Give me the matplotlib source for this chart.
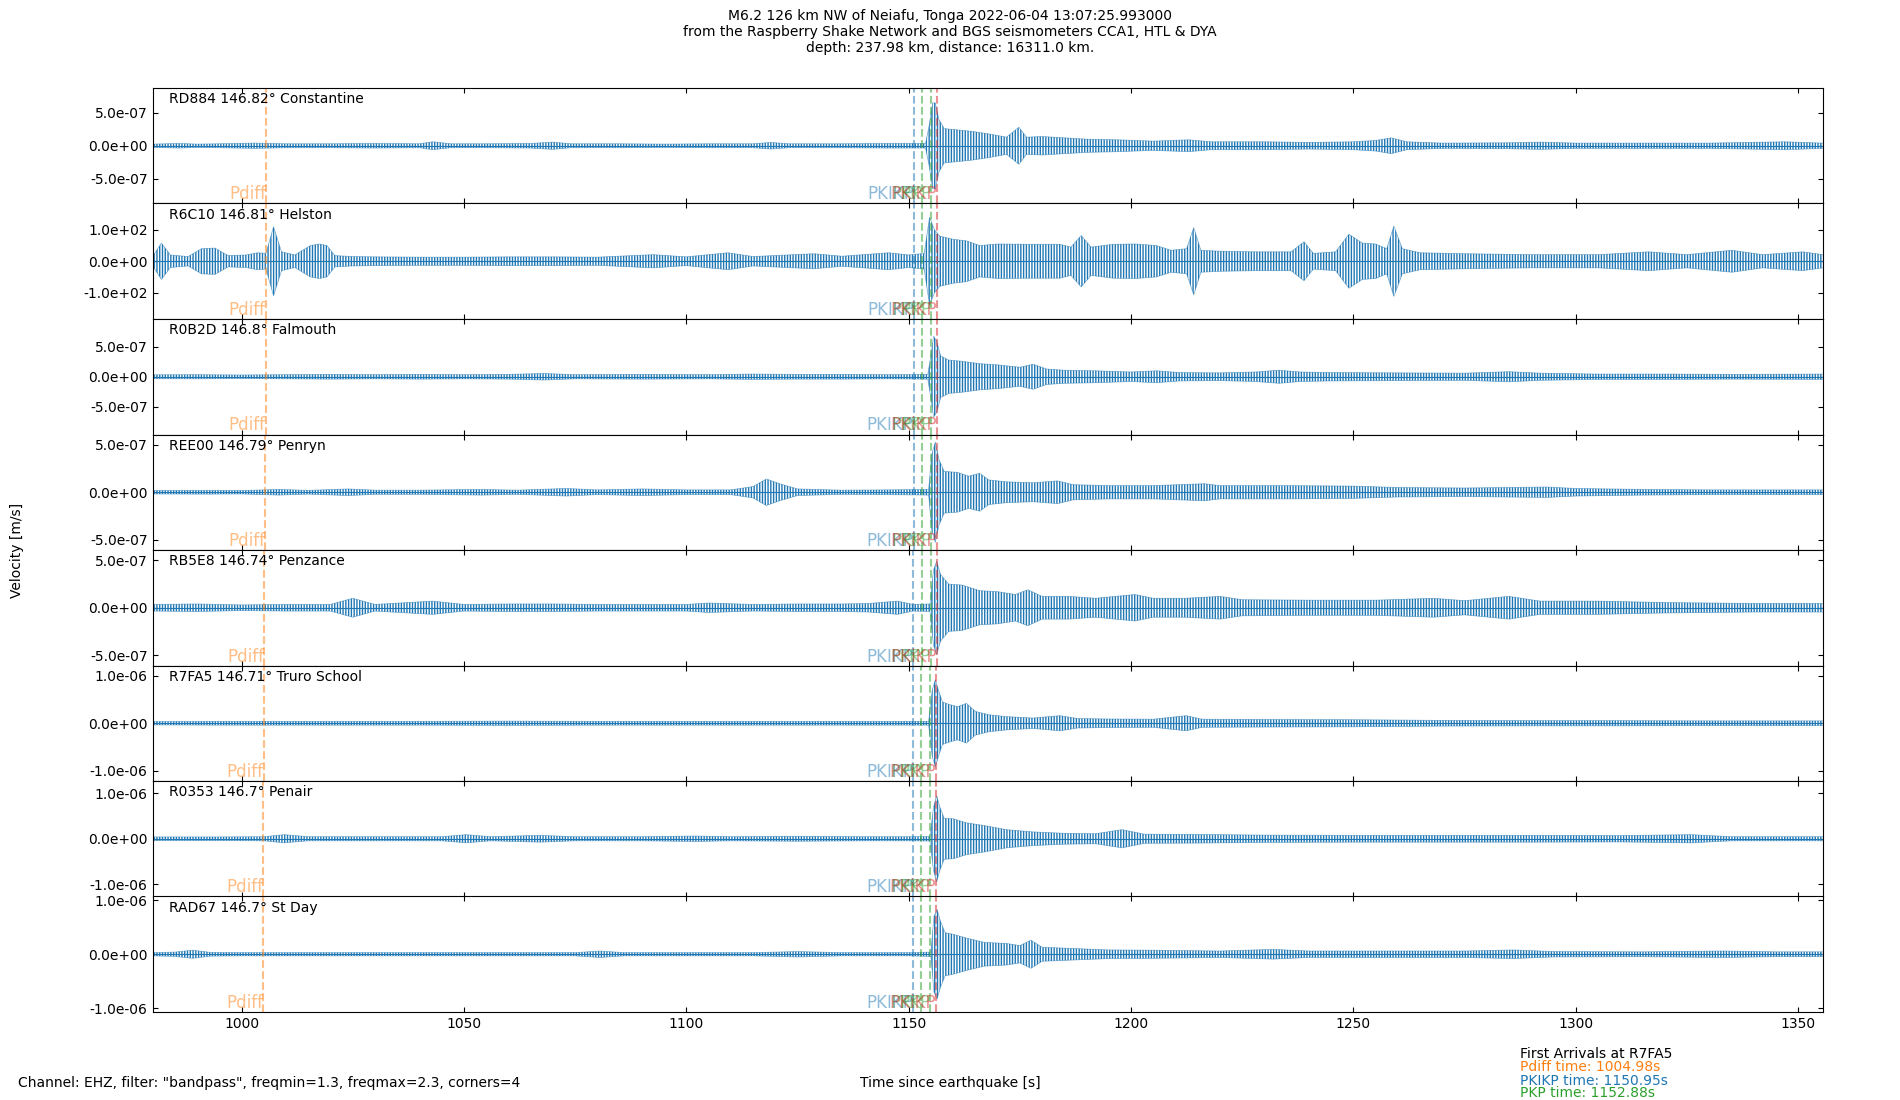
import matplotlib.pyplot as plt
from matplotlib.ticker import FormatStrFormatter

# stations (top to bottom)
stations = ["RD884", "R6C10", "R0B2D", "REE00", "RB5E8", "R7FA5", "R0353", "RAD67"]
distances = [146.82, 146.81, 146.8, 146.79, 146.74, 146.71, 146.7, 146.7]
places = ["Constantine", "Helston", "Falmouth", "Penryn", "Penzance", "Truro School", "Penair", "St Day"]

# y limits (+/-) and tick step per panel
ylims = [8.75e-7, 184, 9.7e-7, 6.1e-7, 6.1e-7, 1.22e-6, 1.27e-6, 1.07e-6]
ytick_steps = [5e-7, 100, 5e-7, 5e-7, 5e-7, 1e-6, 1e-6, 1e-6]
amp_units = [1e-7, 1, 1e-7, 1e-7, 1e-7, 1e-7, 1e-7, 1e-7]

# arrival times per station [s]
t_pdiff = [1005.49, 1005.45, 1005.40, 1005.35, 1005.12, 1004.98, 1004.93, 1004.93]
t_pkikp = [1151.18, 1151.16, 1151.14, 1151.12, 1151.03, 1150.95, 1150.93, 1150.93]
t_pkp1 = [1153.10, 1153.08, 1153.06, 1153.04, 1152.95, 1152.88, 1152.86, 1152.86]
t_pkp2 = [1155.10, 1155.08, 1155.06, 1155.04, 1154.95, 1154.88, 1154.86, 1154.86]
t_pkikp2 = [1156.45, 1156.43, 1156.41, 1156.39, 1156.30, 1156.23, 1156.21, 1156.21]

# peak envelope of each filtered trace (time [s], amplitude [amp_units])
env_t_rd884 = [980, 986, 990, 995, 1003, 1010, 1020, 1030, 1040, 1043, 1047, 1055, 1065, 1070, 1074,
               1085, 1095, 1105, 1115, 1119, 1123, 1135, 1145, 1153.8, 1154.6, 1155.4, 1156.0, 1156.8,
               1158, 1161, 1164, 1168, 1172, 1174.8, 1176.5, 1180, 1185, 1190, 1197, 1205, 1213, 1218,
               1230, 1240, 1250, 1255, 1258.5, 1262, 1270, 1285, 1292, 1300, 1315, 1330, 1347, 1355.6]
env_a_rd884 = [0.25, 0.35, 0.25, 0.3, 0.4, 0.3, 0.3, 0.35, 0.3, 0.6, 0.3, 0.3, 0.35, 0.55, 0.3,
               0.3, 0.25, 0.3, 0.3, 0.5, 0.3, 0.3, 0.35, 0.35, 3.0, 6.5, 6.5, 4.0,
               2.6, 2.4, 2.2, 1.8, 1.3, 2.8, 1.3, 1.4, 1.2, 1.0, 0.9, 0.7, 0.9, 0.6,
               0.6, 0.5, 0.6, 0.8, 1.2, 0.6, 0.4, 0.45, 0.55, 0.4, 0.4, 0.4, 0.6, 0.4]

env_t_r6c10 = [980, 982, 984, 988, 991, 994, 997, 1001, 1003.6, 1005.5, 1007.2, 1009, 1012, 1015.5,
               1017.5, 1019.2, 1021, 1025, 1030, 1040, 1050, 1060, 1070, 1080, 1092.6, 1100, 1109.4,
               1115, 1128.7, 1135, 1145.5, 1150, 1153.5, 1154.7, 1155.8, 1157, 1160, 1163, 1166, 1170,
               1177, 1184, 1186.5, 1188.8, 1191, 1196, 1201, 1205.7, 1209, 1212.5, 1214.1, 1215.7, 1220,
               1228, 1236, 1238.9, 1241, 1246, 1249, 1252, 1255, 1257.5, 1259.1, 1261, 1265, 1275, 1290,
               1305, 1316.4, 1325, 1335.1, 1342, 1351, 1355.6]
env_a_r6c10 = [15, 58, 20, 15, 40, 42, 18, 20, 27, 25, 110, 30, 20, 50,
               55, 50, 18, 15, 14, 13, 13, 14, 14, 13, 21, 14, 27,
               15, 24, 16, 27, 20, 25, 140, 100, 80, 70, 65, 50, 55,
               54, 54, 45, 82, 45, 54, 55, 50, 35, 40, 107, 35, 32,
               30, 30, 62, 25, 30, 86, 58, 55, 40, 112, 40, 27, 24, 21,
               21, 30, 21, 35, 21, 30, 21]

env_t_r0b2d = [980, 990, 1000, 1010, 1020, 1030, 1040, 1050, 1060, 1068, 1075, 1090, 1105, 1115, 1125,
               1135, 1145, 1154.3, 1155.0, 1155.6, 1156.3, 1157.2, 1159, 1162, 1166, 1170, 1175, 1178,
               1181, 1185, 1192, 1200, 1205.7, 1211, 1220, 1228, 1233.3, 1238, 1245, 1260, 1275, 1285,
               1292, 1305, 1320, 1335, 1355.6]
env_a_r0b2d = [0.33, 0.35, 0.3, 0.35, 0.4, 0.35, 0.4, 0.35, 0.4, 0.55, 0.35, 0.4, 0.35, 0.45, 0.4,
               0.4, 0.35, 0.4, 3.5, 6.8, 6.0, 3.5, 2.8, 2.6, 2.2, 2.0, 1.6, 2.1,
               1.3, 1.1, 1.0, 0.8, 1.0, 0.7, 0.65, 0.8, 1.1, 0.8, 0.7, 0.65, 0.6, 0.85,
               0.6, 0.45, 0.45, 0.4, 0.45]

env_t_ree00 = [980, 992, 1000, 1008.4, 1015, 1024, 1030, 1040, 1054, 1062, 1073, 1080, 1090, 1100, 1110,
               1115, 1118, 1121, 1125, 1135, 1145, 1154.5, 1155.2, 1156.0, 1156.8, 1158, 1161, 1163.5,
               1166, 1168, 1172, 1178, 1183.5, 1187, 1195, 1205, 1216.5, 1220, 1235, 1250, 1260, 1275,
               1293.5, 1300, 1315, 1330, 1355.6]
env_a_ree00 = [0.18, 0.2, 0.18, 0.3, 0.2, 0.35, 0.22, 0.22, 0.3, 0.22, 0.4, 0.25, 0.35, 0.25, 0.25,
               0.6, 1.4, 0.9, 0.35, 0.22, 0.25, 0.3, 4.0, 5.3, 3.5, 2.2, 2.1, 1.7,
               2.0, 1.3, 1.1, 1.0, 1.2, 0.8, 0.7, 0.7, 0.9, 0.7, 0.7, 0.65, 0.5, 0.45,
               0.55, 0.4, 0.3, 0.25, 0.25]

env_t_rb5e8 = [980, 990, 1000, 1010, 1020, 1025, 1030, 1043, 1050, 1060, 1070, 1080, 1090, 1100, 1105,
               1115, 1125, 1135, 1141, 1147.5, 1151, 1154.8, 1155.6, 1156.3, 1157.2, 1159, 1162, 1166,
               1170, 1174, 1176.8, 1180, 1186, 1192, 1200.9, 1205, 1212, 1220, 1225, 1240, 1255, 1268,
               1275, 1285, 1292, 1305, 1320, 1340, 1355.6]
env_a_rb5e8 = [0.35, 0.4, 0.3, 0.35, 0.35, 1.0, 0.35, 0.7, 0.35, 0.4, 0.4, 0.35, 0.35, 0.35, 0.5,
               0.35, 0.4, 0.4, 0.45, 0.7, 0.35, 0.4, 4.0, 4.9, 3.5, 2.5, 2.4, 1.8,
               1.7, 1.4, 1.9, 1.2, 1.2, 1.0, 1.4, 1.0, 1.0, 1.2, 0.85, 0.8, 0.8, 1.0,
               0.75, 1.2, 0.7, 0.7, 0.55, 0.45, 0.45]

env_t_r7fa5 = [980, 995, 1010, 1025, 1040, 1060, 1080, 1100, 1120, 1140, 1154.5, 1155.3, 1156.0, 1156.7,
               1157.6, 1159, 1161, 1163, 1165, 1168, 1172, 1178, 1184, 1188, 1195, 1205, 1212.4, 1216,
               1230, 1250, 1270, 1290, 1310, 1330, 1355.6]
env_a_r7fa5 = [0.35, 0.4, 0.4, 0.4, 0.4, 0.45, 0.4, 0.4, 0.4, 0.4, 0.4, 7.0, 9.2, 7.0,
               4.5, 4.0, 3.5, 4.2, 2.5, 1.8, 1.4, 1.1, 1.6, 1.0, 0.9, 0.85, 1.6, 0.85,
               0.8, 0.75, 0.6, 0.55, 0.55, 0.5, 0.5]

env_t_r0353 = [980, 995, 1005, 1009.6, 1015, 1030, 1045, 1050.5, 1056, 1067, 1075, 1090, 1102, 1110,
               1125, 1140, 1150, 1154.8, 1155.6, 1156.3, 1157.0, 1158, 1160, 1163, 1167, 1172, 1178,
               1185, 1192, 1198, 1203, 1215, 1230, 1250, 1270, 1290, 1310, 1326, 1335, 1355.6]
env_a_r0353 = [0.4, 0.4, 0.45, 0.9, 0.45, 0.45, 0.45, 0.9, 0.45, 0.75, 0.45, 0.45, 0.6, 0.45,
               0.55, 0.45, 0.45, 0.5, 7.0, 9.5, 7.0, 4.5, 4.4, 3.5, 2.9, 2.0, 1.5,
               1.2, 1.1, 2.0, 1.0, 0.95, 0.8, 0.75, 0.75, 0.75, 0.7, 0.9, 0.45, 0.45]

env_t_rad67 = [980, 985, 989, 993, 1000, 1015, 1030, 1045, 1060, 1075, 1080.6, 1086, 1100, 1115, 1125,
               1135, 1150, 1155.0, 1155.7, 1156.4, 1157.2, 1158.2, 1160, 1163, 1167, 1172, 1175, 1177.5,
               1180, 1186, 1195, 1205, 1220, 1232, 1240, 1260, 1275, 1286, 1295, 1315, 1333, 1345, 1355.6]
env_a_rad67 = [0.3, 0.4, 0.75, 0.35, 0.3, 0.3, 0.3, 0.3, 0.3, 0.3, 0.6, 0.3, 0.3, 0.3, 0.5,
               0.3, 0.3, 0.4, 7.0, 8.3, 6.0, 4.0, 3.7, 3.0, 2.2, 2.0, 1.6, 2.6,
               1.3, 1.1, 0.8, 0.75, 0.6, 0.9, 0.6, 0.6, 0.6, 0.8, 0.5, 0.45, 0.6, 0.45, 0.45]

env_times = [env_t_rd884, env_t_r6c10, env_t_r0b2d, env_t_ree00, env_t_rb5e8, env_t_r7fa5, env_t_r0353, env_t_rad67]
env_amps = [env_a_rd884, env_a_r6c10, env_a_r0b2d, env_a_ree00, env_a_rb5e8, env_a_r7fa5, env_a_r0353, env_a_rad67]

title = ("M6.2 126 km NW of Neiafu, Tonga 2022-06-04 13:07:25.993000\n"
         "from the Raspberry Shake Network and BGS seismometers CCA1, HTL & DYA\n"
         "depth: 237.98 km, distance: 16311.0 km.")

plt.rcParams['hatch.linewidth'] = 1.0

fig, axs = plt.subplots(len(stations), 1, sharex=True, figsize=(19, 11), dpi=100)
fig.subplots_adjust(left=0.0803, right=0.9595, top=0.92, bottom=0.08, hspace=0)

for i, ax in enumerate(axs):
    u = amp_units[i]
    t = env_times[i]
    a = [v * u for v in env_amps[i]]
    # dense wiggles drawn as vertical strokes inside the envelope
    ax.fill_between(t, [-v for v in a], a, facecolor='none', edgecolor='C0', hatch='||||||', lw=0)
    ax.plot(t, a, color='C0', lw=0.5, alpha=0.6)
    ax.plot(t, [-v for v in a], color='C0', lw=0.5, alpha=0.6)
    ax.axhline(0, color='C0', lw=0.8)

    phases = [("Pdiff", t_pdiff[i], 'C1'), ("PKIKP", t_pkikp[i], 'C0'),
              ("PKP", t_pkp1[i], 'C2'), ("PKP", t_pkp2[i], 'C2'),
              ("PKiKP", t_pkikp2[i], 'C3')]
    for name, tt, col in phases:
        ax.axvline(tt, color=col, ls='--', lw=1.5, alpha=0.5)
        ax.text(tt, 0.0, name, color=col, alpha=0.5, fontsize=12, ha='right', va='bottom',
                transform=ax.get_xaxis_transform())

    ax.text(0.01, 0.965, "{} {}° {}".format(stations[i], distances[i], places[i]),
            transform=ax.transAxes, fontsize=10, va='top', ha='left')

    lim = ylims[i]
    step = ytick_steps[i]
    ax.set_ylim(-lim, lim)
    ax.set_yticks([-step, 0, step])
    ax.yaxis.set_major_formatter(FormatStrFormatter('%.1e'))
    ax.tick_params(direction='in', top=True, right=True, labelsize=10)

axs[-1].set_xlim(980, 1355.6)
axs[-1].set_xticks(range(1000, 1351, 50))

fig.text(0.5, 0.992, title, ha='center', va='top', fontsize=10)
fig.text(0.009, 0.5, "Velocity [m/s]", rotation=90, ha='center', va='center', fontsize=10)
fig.text(0.0095, 0.015, 'Channel: EHZ, filter: "bandpass", freqmin=1.3, freqmax=2.3, corners=4',
         ha='left', va='center', fontsize=10)
fig.text(0.5, 0.015, "Time since earthquake [s]", ha='center', va='center', fontsize=10)

fig.text(0.8, 0.0419, "First Arrivals at R7FA5", color='k', fontsize=10, va='center')
fig.text(0.8, 0.0304, "Pdiff time: 1004.98s", color='C1', fontsize=10, va='center')
fig.text(0.8, 0.0177, "PKIKP time: 1150.95s", color='C0', fontsize=10, va='center')
fig.text(0.8, 0.0064, "PKP time: 1152.88s", color='C2', fontsize=10, va='center')

fig.savefig("out.png")
